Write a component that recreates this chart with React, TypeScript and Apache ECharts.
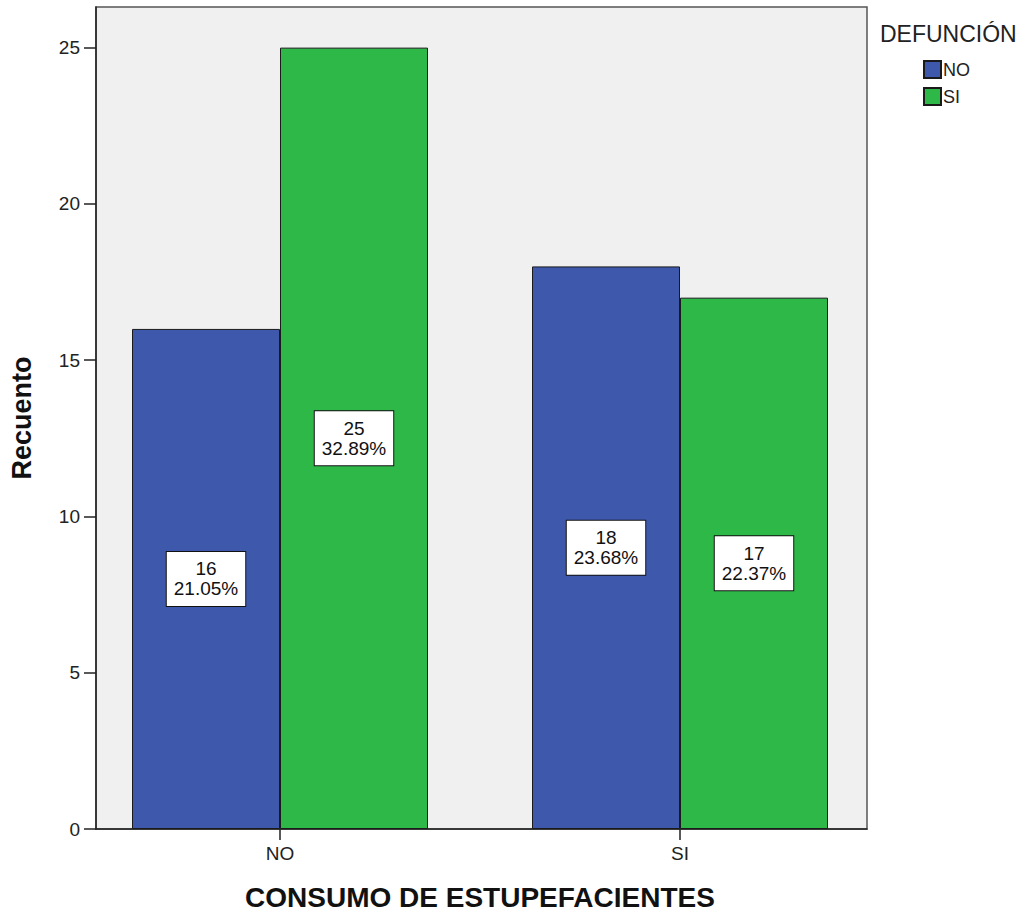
import React, { useEffect, useRef } from "react";
import * as echarts from "echarts";

const categories = ["NO", "SI"];
const seriesNames = ["NO", "SI"];
const noValues = [16, 18];
const siValues = [25, 17];
const noPct = ["21.05%", "23.68%"];
const siPct = ["32.89%", "22.37%"];
const yTicks = [0, 5, 10, 15, 20, 25];
const colors = ["#3e58ac", "#2eb848"];

const FONT = "'Liberation Sans', Arial, sans-serif";

export default function App() {
  const ref = useRef<HTMLDivElement>(null);
  useEffect(() => {
    if (!ref.current) return;
    const chart = echarts.init(ref.current, undefined, { renderer: "svg" });
    const mkLabel = (pcts: string[]) => ({
      show: true,
      position: "inside",
      formatter: (p: any) => `${p.value}\n${pcts[p.dataIndex]}`,
      backgroundColor: "#ffffff",
      borderColor: "#111",
      borderWidth: 1,
      padding: [7, 7],
      fontSize: 19,
      lineHeight: 20,
      color: "#111",
      fontFamily: FONT,
      align: "center",
    });
    chart.setOption({
      animation: false,
      textStyle: { fontFamily: FONT },
      title: {
        text: "DEFUNCIÓN",
        left: 880,
        top: 22,
        padding: 0,
        textStyle: { fontSize: 23, fontWeight: "normal", color: "#222", fontFamily: FONT },
      },
      legend: {
        orient: "vertical",
        left: 923,
        top: 60,
        itemWidth: 17,
        itemHeight: 17,
        itemGap: 8,
        padding: 0,
        icon: "rect",
        data: seriesNames,
        textStyle: { fontSize: 18, color: "#222", fontFamily: FONT, padding: [0, 0, 0, -3] },
      },
      grid: [
        {
          left: 94,
          top: 7,
          width: 773,
          height: 822,
          show: true,
          backgroundColor: "#f0f0f0",
          borderColor: "#555",
          borderWidth: 1.5,
        },
        { left: 80, top: 7, width: 800, height: 822 },
      ],
      xAxis: [
        {
          gridIndex: 0,
          type: "value",
          min: 0,
          max: 1,
          axisLine: { show: true, lineStyle: { color: "#222", width: 1.5 } },
          axisTick: { show: false },
          axisLabel: { show: false },
          splitLine: { show: false },
        },
        {
          gridIndex: 1,
          type: "category",
          data: categories,
          axisLine: { show: false },
          axisTick: { show: true, alignWithLabel: true, length: 11, lineStyle: { color: "#222", width: 1.5 } },
          axisLabel: { fontSize: 19, color: "#222", margin: 15, fontFamily: FONT },
          name: "CONSUMO DE ESTUPEFACIENTES",
          nameLocation: "middle",
          nameGap: 54,
          nameTextStyle: { fontSize: 28, fontWeight: "bold", color: "#111", fontFamily: FONT },
        },
      ],
      yAxis: [
        {
          gridIndex: 0,
          type: "value",
          min: 0,
          max: 26.3,
          axisLine: { show: true, lineStyle: { color: "#222", width: 1.5 } },
          axisTick: { show: true, length: 12, customValues: yTicks, lineStyle: { color: "#222", width: 1.5 } },
          axisLabel: { customValues: yTicks, fontSize: 19, color: "#222", margin: 16, fontFamily: FONT },
          splitLine: { show: false },
          name: "Recuento",
          nameLocation: "middle",
          nameGap: 61,
          nameTextStyle: { fontSize: 27, fontWeight: "bold", color: "#111", fontFamily: FONT },
        },
        { gridIndex: 1, type: "value", min: 0, max: 26.3, show: false },
      ],
      series: [
        {
          name: seriesNames[0],
          type: "bar",
          xAxisIndex: 1,
          yAxisIndex: 1,
          data: noValues,
          barWidth: 148,
          barGap: "0%",
          itemStyle: { color: colors[0], borderColor: "#1a1a1a", borderWidth: 1 },
          label: mkLabel(noPct),
        },
        {
          name: seriesNames[1],
          type: "bar",
          xAxisIndex: 1,
          yAxisIndex: 1,
          data: siValues,
          barWidth: 148,
          barGap: "0%",
          itemStyle: { color: colors[1], borderColor: "#1a1a1a", borderWidth: 1 },
          label: mkLabel(siPct),
        },
      ],
    });
    return () => chart.dispose();
  }, []);
  return (
    <div
      ref={ref}
      style={{ position: "absolute", left: 0, top: 0, width: 1028, height: 916 }}
    />
  );
}
